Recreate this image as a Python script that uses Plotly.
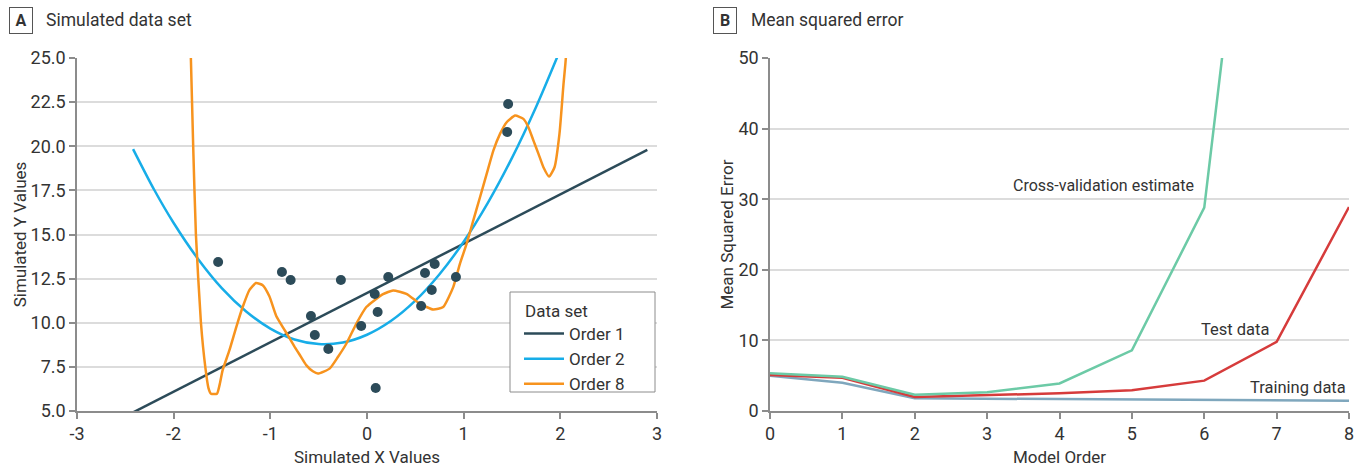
import plotly.graph_objects as go

FONT = "Roboto, 'Open Sans', sans-serif"
TXT = "#333333"

# ---------------- Panel A data ----------------
pts_x = [-1.54, -0.88, -0.79, -0.58, -0.54, -0.40, -0.27, -0.06, 0.08, 0.11, 0.09,
         0.22, 0.60, 0.56, 0.70, 0.67, 0.92, 1.46, 1.45]
pts_y = [13.44, 12.88, 12.42, 10.38, 9.31, 8.51, 12.42, 9.82, 11.63, 10.61, 6.30,
         12.59, 12.82, 10.95, 13.33, 11.86, 12.59, 22.39, 20.81]

order1_x = [-2.42, 2.90]
order1_y = [4.92, 19.79]

order2_x = [-2.42, -2.2, -2.0, -1.75, -1.5, -1.25, -1.0, -0.75, -0.5, -0.25, 0.0,
            0.25, 0.5, 0.75, 1.0, 1.25, 1.5, 1.75, 1.97]
order2_y = [19.84, 17.52, 15.65, 13.63, 11.95, 10.64, 9.67, 9.05, 8.79, 8.88, 9.32,
            10.11, 11.25, 12.75, 14.59, 16.79, 19.34, 22.24, 25.08]

order8_x = [-1.84, -1.822, -1.798, -1.77, -1.718, -1.673, -1.64, -1.614, -1.552, -1.52,
            -1.494, -1.424, -1.35, -1.286, -1.217, -1.148, -1.079, -1.01, -0.94, -0.871,
            -0.82, -0.75, -0.698, -0.629, -0.56, -0.508, -0.387, -0.301, -0.214, -0.111,
            -0.007, 0.166, 0.27, 0.408, 0.546, 0.685, 0.788, 0.892, 0.961, 1.03,
            1.099, 1.169, 1.238, 1.307, 1.376, 1.445, 1.532, 1.618, 1.67, 1.722,
            1.774, 1.825, 1.884, 1.94, 1.991, 2.033, 2.057, 2.07]
order8_y = [28.0, 25.0, 20.0, 15.0, 10.0, 7.5, 6.3, 5.98, 5.98, 6.6,
            7.3, 8.43, 9.8, 10.89, 11.85, 12.25, 12.13, 11.5, 10.4, 9.75,
            9.3, 8.65, 8.2, 7.6, 7.25, 7.12, 7.40, 8.06, 8.81, 9.94,
            10.89, 11.62, 11.83, 11.64, 11.08, 10.75, 10.89, 12.02, 13.34, 14.47,
            15.79, 17.11, 18.43, 19.75, 20.7, 21.36, 21.74, 21.55, 21.08, 20.32,
            19.57, 18.81, 18.28, 18.81, 20.70, 23.53, 25.0, 28.0]

xA_ticks = [-3, -2, -1, 0, 1, 2, 3]
xA_labels = ["-3", "-2", "-1", "0", "1", "2", "3"]
yA_ticks = [5.0, 7.5, 10.0, 12.5, 15.0, 17.5, 20.0, 22.5, 25.0]

# ---------------- Panel B data ----------------
orders = [0, 1, 2, 3, 4, 5, 6, 7, 8]
training = [5.0, 4.0, 1.8, 1.75, 1.7, 1.65, 1.55, 1.5, 1.45]
test = [5.1, 4.7, 2.0, 2.25, 2.5, 2.95, 4.3, 9.8, 28.9]
cv_orders = [0, 1, 2, 3, 4, 5, 6, 7]
cv = [5.35, 4.85, 2.3, 2.65, 3.9, 8.6, 28.8, 115.0]

xB_ticks = [0, 1, 2, 3, 4, 5, 6, 7, 8]
yB_ticks = [0, 10, 20, 30, 40, 50]

C_DARK = "#2c4b59"
C_BLUE = "#17ade8"
C_ORANGE = "#f7931e"
C_GREEN = "#6ccaa6"
C_RED = "#d63b3b"
C_TRAIN = "#7fa7bd"

fig = go.Figure()

fig.add_trace(go.Scatter(x=order1_x, y=order1_y, mode="lines", name="Order 1",
                         line=dict(color=C_DARK, width=2.5), xaxis="x", yaxis="y"))
fig.add_trace(go.Scatter(x=order2_x, y=order2_y, mode="lines", name="Order 2",
                         line=dict(color=C_BLUE, width=2.5, shape="spline", smoothing=0.8),
                         xaxis="x", yaxis="y"))
fig.add_trace(go.Scatter(x=order8_x, y=order8_y, mode="lines", name="Order 8",
                         line=dict(color=C_ORANGE, width=2.5, shape="spline", smoothing=0.5),
                         xaxis="x", yaxis="y"))
fig.add_trace(go.Scatter(x=pts_x, y=pts_y, mode="markers", showlegend=False,
                         marker=dict(color=C_DARK, size=10), xaxis="x", yaxis="y"))

fig.add_trace(go.Scatter(x=orders, y=training, mode="lines", showlegend=False,
                         line=dict(color=C_TRAIN, width=2.5), xaxis="x2", yaxis="y2"))
fig.add_trace(go.Scatter(x=orders, y=test, mode="lines", showlegend=False,
                         line=dict(color=C_RED, width=2.5), xaxis="x2", yaxis="y2"))
fig.add_trace(go.Scatter(x=cv_orders, y=cv, mode="lines", showlegend=False,
                         line=dict(color=C_GREEN, width=2.5), xaxis="x2", yaxis="y2"))

W, H = 1366, 470
def px(v):
    return v / W
def py(v):
    return 1 - v / H

axis_common = dict(
    showline=True, linecolor="#8c8c8c", linewidth=1.5,
    ticks="outside", ticklen=6, tickcolor="#8c8c8c", tickwidth=1.5,
    tickfont=dict(family=FONT, size=18, color=TXT),
    title_font=dict(family=FONT, size=17, color=TXT),
    zeroline=False, fixedrange=True, automargin=False,
)

fig.update_layout(
    width=W, height=H,
    margin=dict(l=0, r=0, t=0, b=0, autoexpand=False),
    paper_bgcolor="white", plot_bgcolor="white",
    font=dict(family=FONT, color=TXT),
    xaxis=dict(domain=[px(77), px(657)], range=[-3, 3], tickvals=xA_ticks,
               ticktext=xA_labels, showgrid=False, anchor="y",
               title=dict(text="Simulated X Values", standoff=8), **axis_common),
    yaxis=dict(domain=[py(411), py(58)], range=[5, 25], tickvals=yA_ticks,
               tickformat=".1f", showgrid=True, gridcolor="#dcdcdc", gridwidth=1.5,
               anchor="x", title=dict(text="Simulated Y Values", standoff=0), **axis_common),
    xaxis2=dict(domain=[px(770), px(1349)], range=[0, 8], tickvals=xB_ticks,
                showgrid=False, anchor="y2",
                title=dict(text="Model Order", standoff=8), **axis_common),
    yaxis2=dict(domain=[py(411), py(58)], range=[0, 50], tickvals=yB_ticks,
                showgrid=True, gridcolor="#dcdcdc", gridwidth=1.5,
                anchor="x2", title=dict(text="Mean Squared Error", standoff=0), **axis_common),
    legend=dict(
        x=px(519), y=py(316), xanchor="left", yanchor="top",
        bgcolor="rgba(0,0,0,0)", borderwidth=0,
        font=dict(family=FONT, size=17, color=TXT),
        tracegroupgap=0, itemwidth=40,
    ),
    showlegend=True,
)

# legend frame and title
fig.add_shape(type="rect", xref="paper", yref="paper",
              x0=px(510), x1=px(655), y0=py(392), y1=py(292),
              line=dict(color="#8c8c8c", width=1), fillcolor="white", layer="above")

annotations = [
    dict(x=px(523), y=py(311), xref="paper", yref="paper", text="Data set",
         showarrow=False, font=dict(family=FONT, size=17, color=TXT),
         xanchor="left", yanchor="middle"),
    dict(x=px(21), y=py(20.5), xref="paper", yref="paper", text="<b>A</b>",
         showarrow=False, font=dict(family=FONT, size=16, color=TXT),
         bordercolor="#555555", borderwidth=1, borderpad=3,
         xanchor="center", yanchor="middle", width=16, height=19),
    dict(x=px(44), y=py(20.5), xref="paper", yref="paper", text="Simulated data set",
         showarrow=False, font=dict(family=FONT, size=17.5, color=TXT),
         xanchor="left", yanchor="middle"),
    dict(x=px(725), y=py(20.5), xref="paper", yref="paper", text="<b>B</b>",
         showarrow=False, font=dict(family=FONT, size=16, color=TXT),
         bordercolor="#555555", borderwidth=1, borderpad=3,
         xanchor="center", yanchor="middle", width=16, height=19),
    dict(x=px(749), y=py(20.5), xref="paper", yref="paper", text="Mean squared error",
         showarrow=False, font=dict(family=FONT, size=17.5, color=TXT),
         xanchor="left", yanchor="middle"),
    dict(x=5.89, y=32.0, xref="x2", yref="y2", text="Cross-validation estimate",
         showarrow=False, font=dict(family=FONT, size=16, color=TXT),
         xanchor="right", yanchor="middle"),
    dict(x=6.92, y=11.6, xref="x2", yref="y2", text="Test data",
         showarrow=False, font=dict(family=FONT, size=16.5, color=TXT),
         xanchor="right", yanchor="middle"),
    dict(x=7.99, y=3.3, xref="x2", yref="y2", text="Training data",
         showarrow=False, font=dict(family=FONT, size=16.5, color=TXT),
         xanchor="right", yanchor="middle"),
]
fig.update_layout(annotations=annotations)

fig.write_html("out.html")
